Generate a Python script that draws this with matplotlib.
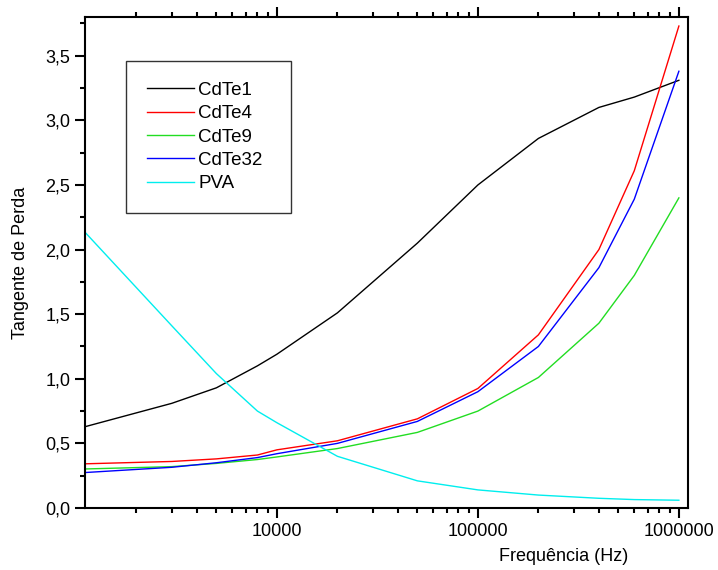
import numpy as np
import matplotlib
matplotlib.use('Agg')
import matplotlib.pyplot as plt
from matplotlib.ticker import FixedLocator, LogLocator, NullFormatter, FuncFormatter, MultipleLocator

plt.rcParams['font.family'] = ['Liberation Sans', 'DejaVu Sans']

# Frequencies (Hz) and loss tangent
freq = [1000, 3000, 5000, 8000, 10000, 20000, 50000, 100000, 200000, 400000, 600000, 1000000]
cdte1 = [0.61, 0.81, 0.93, 1.10, 1.19, 1.51, 2.05, 2.50, 2.86, 3.10, 3.18, 3.31]
cdte4 = [0.34, 0.36, 0.38, 0.41, 0.45, 0.52, 0.69, 0.925, 1.34, 2.00, 2.61, 3.73]
cdte9 = [0.30, 0.32, 0.345, 0.375, 0.395, 0.46, 0.585, 0.75, 1.01, 1.43, 1.80, 2.40]
cdte32 = [0.27, 0.315, 0.35, 0.39, 0.42, 0.50, 0.67, 0.90, 1.25, 1.86, 2.39, 3.38]
pva = [2.21, 1.41, 1.04, 0.75, 0.66, 0.40, 0.21, 0.14, 0.10, 0.075, 0.065, 0.06]

series = [('CdTe1', cdte1, 'black'),
          ('CdTe4', cdte4, '#ff0000'),
          ('CdTe9', cdte9, '#22dd22'),
          ('CdTe32', cdte32, '#0000ff'),
          ('PVA', pva, '#00eeee')]

fig = plt.figure(figsize=(7.18, 5.70), dpi=100)
ax = fig.add_axes([0.1184, 0.1088, 0.8398, 0.8614])

for name, vals, col in series:
    ax.plot(freq, vals, color=col, lw=1.0, label=name)

ax.set_xscale('log')
ax.set_xlim(1110, 1.11e6)
ax.set_ylim(0, 3.8)

ax.xaxis.set_major_locator(FixedLocator([1e4, 1e5, 1e6]))
ax.xaxis.set_major_formatter(FuncFormatter(lambda v, p: '%d' % v))
ax.xaxis.set_minor_locator(LogLocator(base=10, subs=np.arange(2, 10)))
ax.xaxis.set_minor_formatter(NullFormatter())

ax.yaxis.set_major_locator(MultipleLocator(0.5))
ax.yaxis.set_minor_locator(MultipleLocator(0.25))
ax.yaxis.set_major_formatter(FuncFormatter(lambda v, p: ('%.1f' % v).replace('.', ',')))

ax.tick_params(which='both', direction='out', top=True, right=False, width=1.5)
ax.tick_params(which='major', length=7, labelsize=13)
ax.tick_params(which='minor', length=3.5)
for s in ax.spines.values():
    s.set_linewidth(1.5)

ax.set_xlabel('Frequência (Hz)', fontsize=13, va='center')
ax.xaxis.set_label_coords(0.793, -0.099)
ax.set_ylabel('Tangente de Perda', fontsize=13, labelpad=12)

leg = ax.legend(loc='upper left', bbox_to_anchor=(0.068, 0.621, 0.274, 0.289),
                mode='expand', borderaxespad=0, fontsize=13.5,
                frameon=True, fancybox=False, edgecolor='black', handlelength=2.5,
                handletextpad=0.25, labelspacing=0.33, borderpad=1.1)
leg.get_frame().set_linewidth(1.0)

fig.savefig('out.png', dpi=100)
